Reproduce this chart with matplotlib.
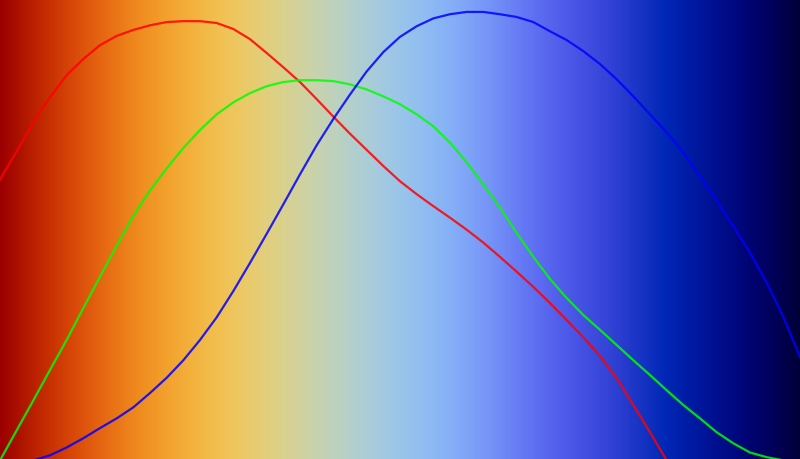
import numpy as np
import matplotlib
matplotlib.use("Agg")
import matplotlib.pyplot as plt
from matplotlib.colors import LinearSegmentedColormap

# position along the colour map (0..1) and the R, G, B channel values
pos = np.linspace(0, 1, 49)
red = [0.609, 0.670, 0.733, 0.787, 0.835, 0.870, 0.900, 0.920, 0.933, 0.943,
       0.950, 0.952, 0.952, 0.948, 0.935, 0.913, 0.883, 0.852, 0.820, 0.783,
       0.745, 0.708, 0.673, 0.638, 0.605, 0.577, 0.551, 0.526, 0.500, 0.472,
       0.441, 0.409, 0.376, 0.341, 0.304, 0.267, 0.226, 0.178, 0.120, 0.061,
       0.0, 0.0, 0.0, 0.0, 0.0, 0.0, 0.0, 0.0, 0.0]
green = [0.0, 0.065, 0.130, 0.196, 0.261, 0.330, 0.398, 0.465, 0.530, 0.585,
         0.633, 0.677, 0.716, 0.750, 0.776, 0.796, 0.811, 0.820, 0.824, 0.824,
         0.822, 0.815, 0.804, 0.789, 0.772, 0.750, 0.724, 0.689, 0.646, 0.598,
         0.548, 0.493, 0.441, 0.393, 0.352, 0.315, 0.283, 0.250, 0.217, 0.185,
         0.152, 0.120, 0.091, 0.061, 0.037, 0.017, 0.007, 0.0, 0.0]
blue = [0.0, 0.0, 0.0, 0.011, 0.028, 0.048, 0.070, 0.091, 0.115, 0.146,
        0.179, 0.217, 0.261, 0.310, 0.367, 0.428, 0.491, 0.555, 0.620, 0.683,
        0.740, 0.793, 0.843, 0.885, 0.918, 0.941, 0.958, 0.967, 0.972, 0.972,
        0.967, 0.961, 0.950, 0.930, 0.911, 0.887, 0.859, 0.826, 0.789, 0.750,
        0.711, 0.667, 0.615, 0.563, 0.507, 0.450, 0.385, 0.311, 0.224]

# colour map made from the three channels
cmap = LinearSegmentedColormap.from_list(
    "custom", list(zip(pos, zip(red, green, blue))), N=512)

fig = plt.figure(figsize=(8, 4.6), dpi=100)
ax = fig.add_axes([0, 0, 1, 1])

grad = np.linspace(0, 1, 800).reshape(1, -1)
ax.imshow(grad, cmap=cmap, aspect="auto", extent=[0, 1, 0, 1],
          interpolation="bilinear")

ax.plot(pos, red, color="#ff0000", lw=1.6, alpha=0.85)
ax.plot(pos, green, color="#00ff00", lw=1.6, alpha=0.85)
ax.plot(pos, blue, color="#0000ff", lw=1.6, alpha=0.85)

ax.set_xlim(0, 1)
ax.set_ylim(0.003, 1)
ax.axis("off")

plt.savefig("out.png", dpi=100)
